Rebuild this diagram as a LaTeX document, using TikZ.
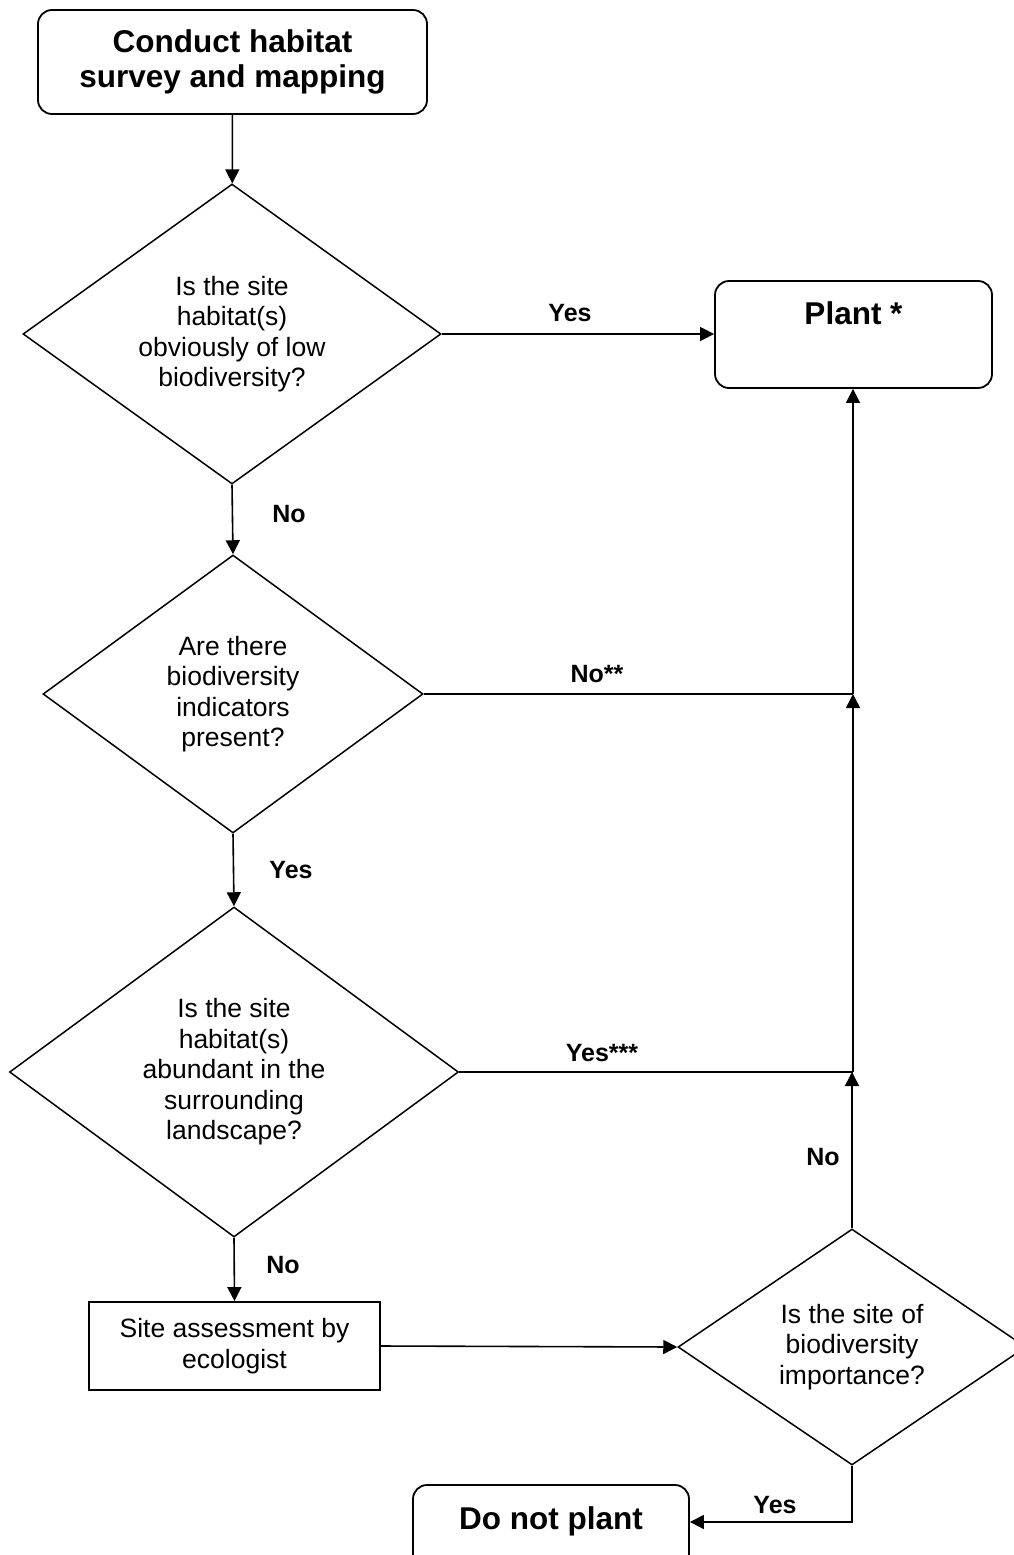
\documentclass[tikz,border=0pt]{standalone}
\usepackage{fontspec}
\setmainfont{Liberation Sans}
\usetikzlibrary{shapes.geometric,arrows.meta}
\tikzset{
  reg/.style={font=\fontsize{26.5}{30.5}\selectfont},
  big/.style={font=\bfseries\fontsize{31.5}{35}\selectfont},
  lbl/.style={font=\bfseries\fontsize{25}{30}\selectfont, inner sep=0pt},
  dia/.style={shape=diamond, draw, line width=1.5pt, inner sep=0pt, aspect=1.4, align=center, reg},
  rbox/.style={draw, line width=1.8pt, rounded corners=14pt, inner sep=0pt, align=center, big},
  sbox/.style={draw, line width=1.8pt, inner sep=0pt, align=center, reg},
  arr/.style={line width=1.6pt, -{Triangle[length=14pt,width=14pt]}},
  ln/.style={line width=1.6pt}
}
\begin{document}
\begin{tikzpicture}[x=1pt,y=-1pt]
\useasboundingbox (0,0) rectangle (1014,1555);
\clip (0,0) rectangle (1014,1555);
% nodes
\node[rbox, minimum width=389pt, minimum height=104pt] (start) at (232.5,62) {Conduct habitat\\survey and mapping};
\node[dia, minimum width=418pt, minimum height=300pt] (d1) at (232,334) {Is the site\\habitat(s)\\obviously of low\\biodiversity?};
\node[rbox, minimum width=277pt, minimum height=107pt, text height=22pt, text depth=43pt] (plant) at (853.5,334.5) {Plant *};
\node[dia, minimum width=380pt, minimum height=278pt] (d2) at (233,694) {Are there\\biodiversity\\indicators\\present?};
\node[dia, minimum width=449pt, minimum height=330pt] (d3) at (234,1072) {Is the site\\habitat(s)\\abundant in the\\surrounding\\landscape?};
\node[sbox, minimum width=291pt, minimum height=88pt] (site) at (234.5,1346) {Site assessment by\\ecologist};
\node[dia, minimum width=348pt, minimum height=236pt] (d4) at (852,1347) {Is the site of\\biodiversity\\importance?};
\node[rbox, minimum width=276pt, minimum height=88pt, text height=22pt, text depth=22pt] (dnp) at (551,1529) {Do not plant};
% junctions
\coordinate (j2) at (853,694);
\coordinate (j3) at (853,1072);
\coordinate (yb) at (852,1522);
% connectors
\draw[arr] (start) -- (d1);
\draw[arr] (d1.east) -- (d1.east -| plant.west);
\draw[arr] (d1.south) -- (d2.north);
\draw[arr] (d2.south) -- (d3.north);
\draw[arr] (d3.south) -- (site.north);
\draw[arr] (site.east) -- (d4.west);
\draw[ln] (d2.east) -- (j2);
\draw[arr] (j2) -- (plant.south -| j2);
\draw[ln] (d3.east) -- (j3);
\draw[arr] (j3) -- (j2);
\draw[arr] (d4.north) -- (d4.north |- j3);
\draw[arr] (d4.south) -- (yb) -- (yb -| dnp.east);
% labels
\node[lbl] (lyes1) at (570,313) {Yes};
\node[lbl] (lno1) at (289,514) {No};
\node[lbl] (lno2) at (597,674) {No**};
\node[lbl] (lyes2) at (291,870) {Yes};
\node[lbl] (lyes3) at (602,1053) {Yes***};
\node[lbl] (lno3) at (283,1265) {No};
\node[lbl] (lno4) at (823,1157) {No};
\node[lbl] (lyes4) at (775,1505) {Yes};
\end{tikzpicture}
\end{document}
